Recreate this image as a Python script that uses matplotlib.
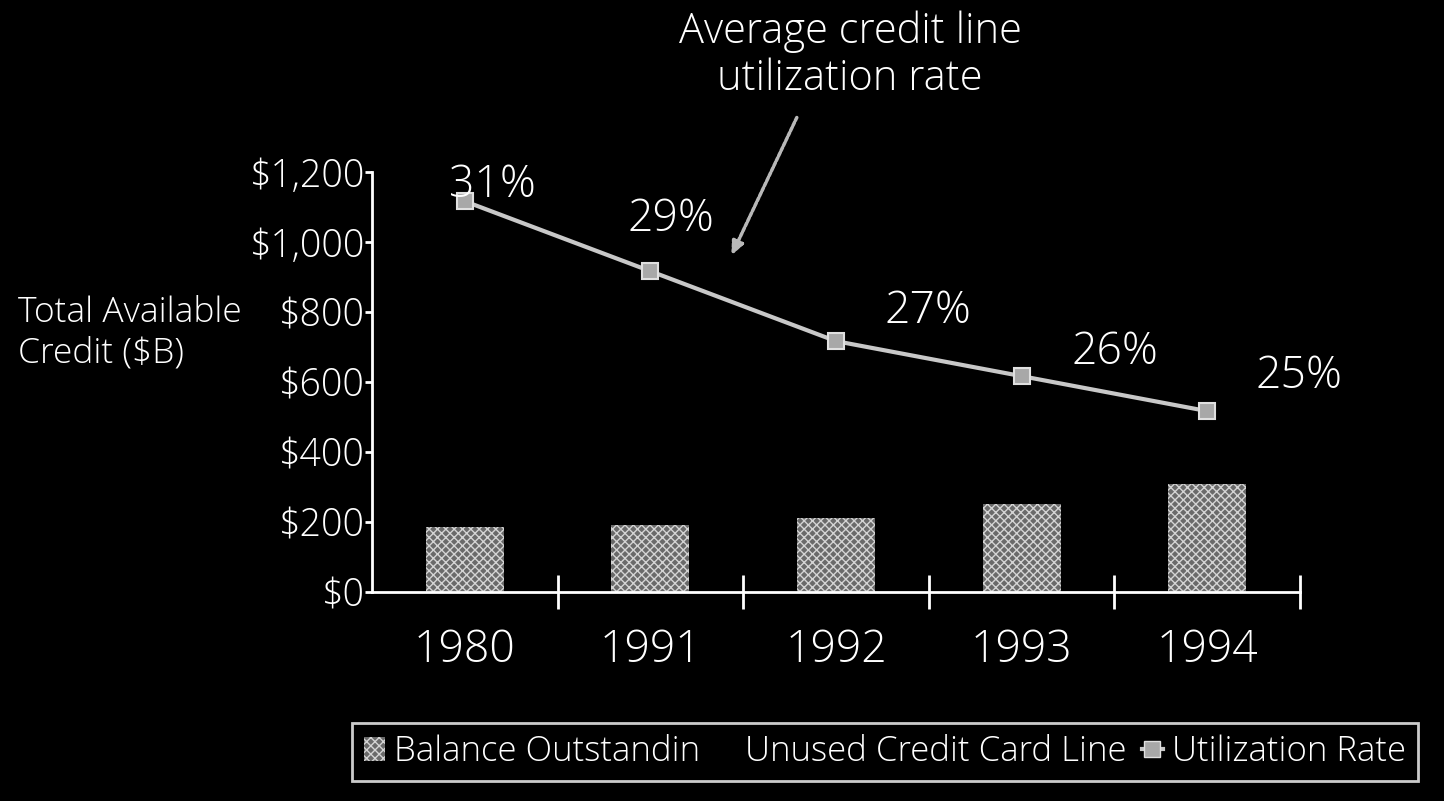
import matplotlib
matplotlib.use('Agg')
import matplotlib.pyplot as plt
from matplotlib.patches import Patch
from matplotlib.lines import Line2D
import numpy as np

plt.rcParams['font.family'] = ['Open Sans', 'DejaVu Sans']
plt.rcParams['font.weight'] = 'light'
plt.rcParams['hatch.linewidth'] = 1.0

# data ($B and percent)
years = ['1980', '1991', '1992', '1993', '1994']
balance = [185, 190, 210, 250, 310]
util_rate = [31, 29, 27, 26, 25]
y_ticks = [0, 200, 400, 600, 800, 1000, 1200]
y_labels = ['$0', '$200', '$400', '$600', '$800', '$1,000', '$1,200']

# where each percent label sits relative to its marker (points)
label_offsets = [(20, 11), (15, 37), (66, 21), (67, 17), (66, 25)]

bar_face = '#6a6a6a'
bar_hatch = '#d4d4d4'
line_col = '#c8c8c8'

fig = plt.figure(figsize=(14.44, 8.01), dpi=100, facecolor='black')
ax = fig.add_axes([0.2576, 0.261, 0.6427, 0.524], facecolor='black')

x = np.arange(len(years))
ax.bar(x, balance, width=0.42, color=bar_face, edgecolor=bar_hatch,
       hatch='xxxx', linewidth=0, zorder=2)

ax.set_xlim(-0.5, 4.5)
ax.set_ylim(0, 1200)
ax.set_yticks(y_ticks)
ax.set_yticklabels(y_labels)
ax.set_xticks(x)
ax.set_xticklabels(years)
ax.set_xticks(np.arange(0.5, 5, 1), minor=True)

for s in ['top', 'right']:
    ax.spines[s].set_visible(False)
for s in ['left', 'bottom']:
    ax.spines[s].set_color('white')
    ax.spines[s].set_linewidth(2)

ax.tick_params(axis='y', colors='white', labelsize=27, length=5, width=2,
               direction='out', pad=0)
ax.tick_params(axis='x', which='major', colors='white', labelsize=32,
               length=0, pad=26)
ax.tick_params(axis='x', which='minor', colors='white', length=24, width=2,
               direction='inout')

# utilization rate on its own hidden scale
ax2 = ax.twinx()
ax2.set_ylim(19.83, 31.83)
ax2.axis('off')
ax2.plot(x, util_rate, color=line_col, lw=3, marker='s', markersize=11,
         markerfacecolor='#a8a8a8', markeredgecolor='#e0e0e0',
         markeredgewidth=1.5, zorder=3)
for xi, r, off in zip(x, util_rate, label_offsets):
    ax2.annotate(f'{r}%', (xi, r), xytext=off, textcoords='offset points',
                 ha='center', va='center', color='white', fontsize=32)

fig.text(850 / 1444, 1 - 55 / 801, 'Average credit line\nutilization rate',
         ha='center', va='center', color='white', fontsize=30,
         linespacing=1.15)
ax.annotate('', xy=(1.43, 955), xytext=(798 / 1444, 1 - 115 / 801),
            textcoords='figure fraction',
            arrowprops=dict(arrowstyle='-|>,head_length=0.8,head_width=0.35',
                            color='#b8b8b8', lw=2.5, linestyle=(0, (1, 0.6))))

fig.text(18 / 1444, 1 - 333 / 801, 'Total Available\nCredit ($B)',
         ha='left', va='center', color='white', fontsize=25.5,
         linespacing=1.2)

handles = [
    Patch(facecolor=bar_face, edgecolor=bar_hatch, hatch='xxxx', linewidth=0),
    Patch(facecolor='black', edgecolor='black'),
    Line2D([], [], color=line_col, lw=3, marker='s', markersize=11,
           markerfacecolor='#a8a8a8', markeredgecolor='#e0e0e0'),
]
labels = ['Balance Outstandin', 'Unused Credit Card Line', 'Utilization Rate']
leg = fig.legend(handles, labels, loc='center left', ncol=3,
                 bbox_to_anchor=(352 / 1444, 1 - 752 / 801),
                 fontsize=25, frameon=True, fancybox=False,
                 handlelength=0.6, handletextpad=0.25, columnspacing=0.45,
                 borderpad=0.35, borderaxespad=0)
leg.get_frame().set_facecolor('black')
leg.get_frame().set_edgecolor('white')
leg.get_frame().set_linewidth(2)
for t in leg.get_texts():
    t.set_color('white')

fig.savefig('out.png', dpi=100, facecolor='black')
